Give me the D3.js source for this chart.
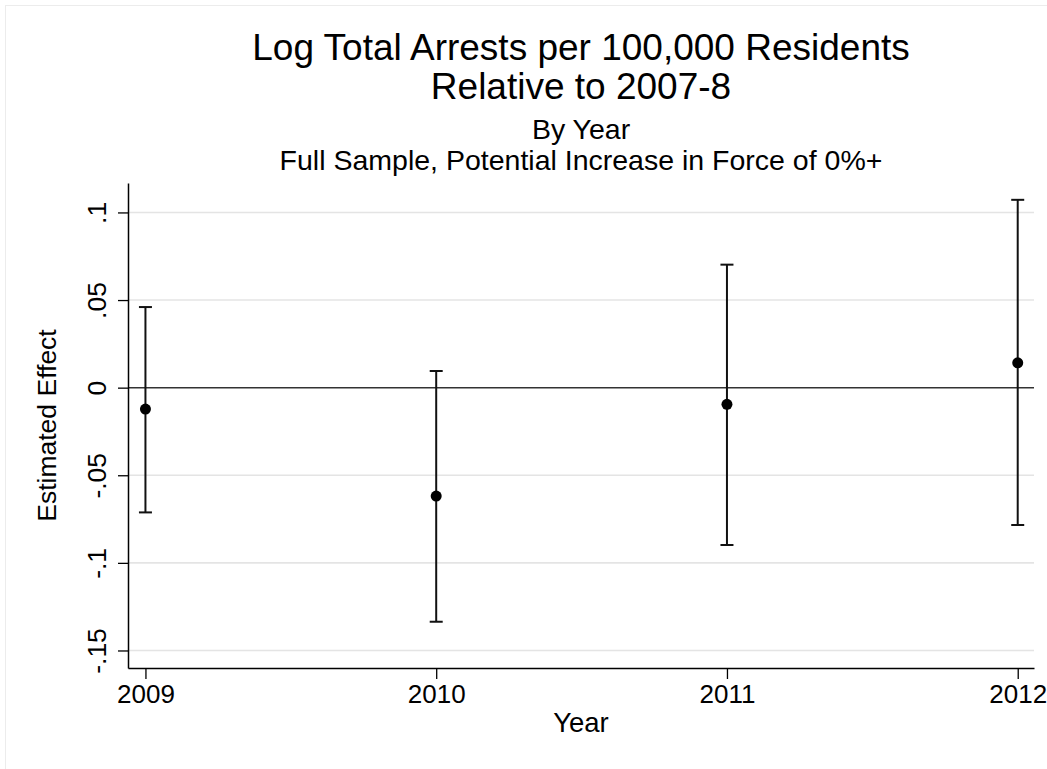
<!DOCTYPE html>
<html>
<head>
<meta charset="utf-8">
<script src="https://cdn.jsdelivr.net/npm/d3@7"></script>
<style>
  html, body { margin: 0; padding: 0; background: #fff; }
  svg text { font-family: "Liberation Sans", Arial, Helvetica, sans-serif; fill: #000; }
</style>
</head>
<body>
<script>
// chart data
const years = [2009, 2010, 2011, 2012];
const estimates = [-0.0122, -0.0619, -0.0095, 0.0142];
const lowerCI = [-0.0712, -0.1336, -0.0898, -0.0784];
const upperCI = [0.046, 0.0095, 0.0702, 0.1072];
const yTicks = [-0.15, -0.1, -0.05, 0, 0.05, 0.1];
const yTickLabels = ["-.15", "-.1", "-.05", "0", ".05", ".1"];

const width = 1047;
const height = 769;
const margin = { top: 183, right: 13, bottom: 101, left: 128 };

const svg = d3.select("body").append("svg")
  .attr("width", width)
  .attr("height", height);

// faint outer frame of the graph region
svg.append("rect")
  .attr("x", 5.5).attr("y", 5.5)
  .attr("width", width + 20).attr("height", height + 20)
  .attr("fill", "none")
  .attr("stroke", "#ececec")
  .attr("stroke-width", 1);

const x = d3.scaleLinear()
  .domain([2008.94, 2012.056])
  .range([margin.left, width - margin.right]);

const y = d3.scaleLinear()
  .domain([-0.16, 0.1168])
  .range([height - margin.bottom, margin.top]);

// gridlines
svg.append("g")
  .selectAll("line")
  .data(yTicks.filter(d => d !== 0))
  .join("line")
  .attr("x1", margin.left).attr("x2", width - margin.right)
  .attr("y1", d => y(d)).attr("y2", d => y(d))
  .attr("stroke", "#e4e4e4")
  .attr("stroke-width", 1.6);

// zero reference line
svg.append("line")
  .attr("x1", margin.left).attr("x2", width - margin.right)
  .attr("y1", y(0)).attr("y2", y(0))
  .attr("stroke", "#333")
  .attr("stroke-width", 1.5);

// y axis
const yAxis = svg.append("g")
  .attr("transform", `translate(${margin.left},0)`)
  .call(d3.axisLeft(y)
    .tickValues(yTicks)
    .tickFormat((d, i) => yTickLabels[i])
    .tickSize(10)
    .tickSizeOuter(0));
yAxis.select(".domain").attr("stroke", "#000").attr("stroke-width", 1.5);
yAxis.selectAll(".tick line").attr("stroke", "#000").attr("stroke-width", 1.3);
yAxis.selectAll(".tick text")
  .attr("x", 0).attr("y", 0).attr("dy", 0)
  .attr("transform", "translate(-22,0) rotate(-90)")
  .attr("text-anchor", "middle")
  .attr("font-size", 26.5);

// x axis
const xAxis = svg.append("g")
  .attr("transform", `translate(0,${height - margin.bottom})`)
  .call(d3.axisBottom(x)
    .tickValues(years)
    .tickFormat(d3.format("d"))
    .tickSize(11)
    .tickSizeOuter(0));
xAxis.select(".domain").attr("stroke", "#000").attr("stroke-width", 1.5);
xAxis.selectAll(".tick line").attr("stroke", "#000").attr("stroke-width", 1.3);
xAxis.selectAll(".tick text")
  .attr("y", 35).attr("dy", 0)
  .attr("font-size", 26);

// error bars
const idx = d3.range(years.length);
const bars = svg.append("g")
  .attr("stroke", "#111")
  .attr("stroke-width", 2);
bars.selectAll("line.ci")
  .data(idx)
  .join("line")
  .attr("class", "ci")
  .attr("x1", i => x(years[i])).attr("x2", i => x(years[i]))
  .attr("y1", i => y(lowerCI[i])).attr("y2", i => y(upperCI[i]));
bars.selectAll("line.capHi")
  .data(idx)
  .join("line")
  .attr("class", "capHi")
  .attr("x1", i => x(years[i]) - 6.5).attr("x2", i => x(years[i]) + 6.5)
  .attr("y1", i => y(upperCI[i])).attr("y2", i => y(upperCI[i]));
bars.selectAll("line.capLo")
  .data(idx)
  .join("line")
  .attr("class", "capLo")
  .attr("x1", i => x(years[i]) - 6.5).attr("x2", i => x(years[i]) + 6.5)
  .attr("y1", i => y(lowerCI[i])).attr("y2", i => y(lowerCI[i]));

// point estimates
svg.append("g")
  .attr("fill", "#000")
  .selectAll("circle")
  .data(idx)
  .join("circle")
  .attr("cx", i => x(years[i]))
  .attr("cy", i => y(estimates[i]))
  .attr("r", 5.5);

// titles
const cx = (margin.left + width - margin.right) / 2;
svg.append("text").attr("x", cx).attr("y", 60).attr("text-anchor", "middle")
  .attr("font-size", 37).text("Log Total Arrests per 100,000 Residents");
svg.append("text").attr("x", cx).attr("y", 99).attr("text-anchor", "middle")
  .attr("font-size", 37).text("Relative to 2007-8");
svg.append("text").attr("x", cx).attr("y", 139).attr("text-anchor", "middle")
  .attr("font-size", 28.5).text("By Year");
svg.append("text").attr("x", cx).attr("y", 170).attr("text-anchor", "middle")
  .attr("font-size", 28.5).text("Full Sample, Potential Increase in Force of 0%+");

// axis titles
svg.append("text").attr("x", cx).attr("y", 732).attr("text-anchor", "middle")
  .attr("font-size", 27.5).text("Year");
svg.append("text")
  .attr("transform", `translate(56,${(margin.top + height - margin.bottom) / 2}) rotate(-90)`)
  .attr("text-anchor", "middle")
  .attr("font-size", 26.5).text("Estimated Effect");
</script>
</body>
</html>
